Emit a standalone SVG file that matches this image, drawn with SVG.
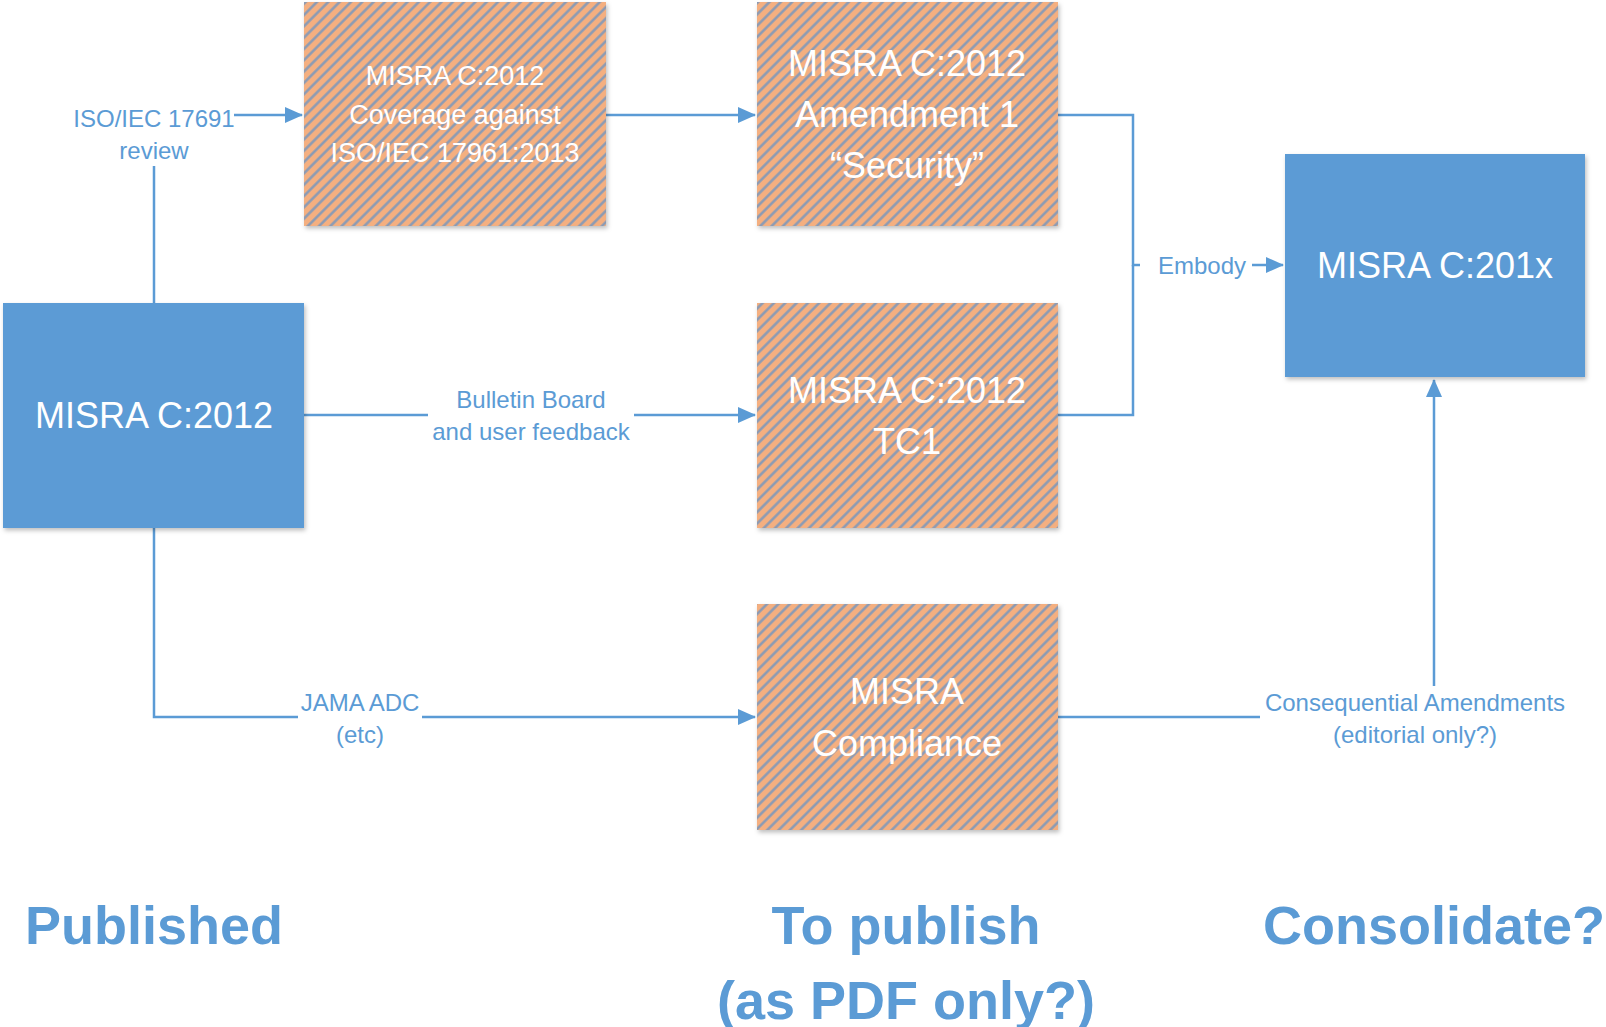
<svg xmlns="http://www.w3.org/2000/svg" width="1606" height="1027" viewBox="0 0 1606 1027">
<defs>
  <pattern id="hatch" width="8" height="8" patternUnits="userSpaceOnUse" patternTransform="rotate(45)">
    <rect width="8" height="8" fill="#F4AF80"/>
    <line x1="1.5" y1="0" x2="1.5" y2="8" stroke="#8399B8" stroke-width="2.4"/>
  </pattern>
  <filter id="sh" x="-5%" y="-5%" width="115%" height="115%">
    <feDropShadow dx="1.5" dy="2.5" stdDeviation="2" flood-color="#000" flood-opacity="0.25"/>
  </filter>
  <marker id="arr" markerWidth="18" markerHeight="16" refX="17" refY="8" orient="auto" markerUnits="userSpaceOnUse">
    <path d="M0,0 L18,8 L0,16 Z" fill="#5B9BD5"/>
  </marker>
</defs>
<style>
  .blue { fill: #5B9BD5; }
  .hat { fill: url(#hatch); }
  .bt { font-family: "Liberation Sans", Arial, sans-serif; fill: #FFFFFF; text-anchor: middle; }
  .big { font-size: 36px; }
  .mid { font-size: 27px; }
  .lbl { font-family: "Liberation Sans", Arial, sans-serif; font-size: 24px; fill: #5B9BD5; text-anchor: middle; }
  .head { font-family: "Liberation Sans", Arial, sans-serif; font-size: 54px; font-weight: bold; fill: #5B9BD5; text-anchor: middle; }
  .con { fill: none; stroke: #5B9BD5; stroke-width: 2.5; }
  .bg { fill: #FFFFFF; }
</style>
<rect width="1606" height="1027" fill="#FFFFFF"/>

<g id="connectors">
  <path class="con" d="M154,303 V115 H302" marker-end="url(#arr)"/>
  <path class="con" d="M606,115 H755" marker-end="url(#arr)"/>
  <path class="con" d="M1058,115 H1133 V265 H1283" marker-end="url(#arr)"/>
  <path class="con" d="M1058,415 H1133 V265"/>
  <path class="con" d="M304,415 H755" marker-end="url(#arr)"/>
  <path class="con" d="M154,528 V717 H755" marker-end="url(#arr)"/>
  <path class="con" d="M1058,717 H1434 V380" marker-end="url(#arr)"/>

  <rect class="bg" x="74" y="102" width="160" height="64"/>
  <text class="lbl" x="154" y="127">ISO/IEC 17691</text>
  <text class="lbl" x="154" y="159">review</text>

  <rect class="bg" x="1140" y="248" width="112" height="34"/>
  <text class="lbl" x="1202" y="274">Embody</text>

  <rect class="bg" x="428" y="386" width="206" height="60"/>
  <text class="lbl" x="531" y="408">Bulletin Board</text>
  <text class="lbl" x="531" y="440">and user feedback</text>

  <rect class="bg" x="298" y="688" width="124" height="60"/>
  <text class="lbl" x="360" y="711">JAMA ADC</text>
  <text class="lbl" x="360" y="743">(etc)</text>

  <rect class="bg" x="1260" y="686" width="316" height="64"/>
  <text class="lbl" x="1415" y="711">Consequential Amendments</text>
  <text class="lbl" x="1415" y="743">(editorial only?)</text>
</g>

<g id="node-coverage">
  <rect class="hat" x="304" y="2" width="302" height="224" filter="url(#sh)"/>
  <text class="bt mid" x="455" y="85">MISRA C:2012</text>
  <text class="bt mid" x="455" y="124">Coverage against</text>
  <text class="bt mid" x="455" y="162">ISO/IEC 17961:2013</text>
</g>

<g id="node-amendment">
  <rect class="hat" x="757" y="2" width="301" height="224" filter="url(#sh)"/>
  <text class="bt big" x="907" y="76">MISRA C:2012</text>
  <text class="bt big" x="907" y="127">Amendment 1</text>
  <text class="bt big" x="907" y="178">“Security”</text>
</g>

<g id="node-misra201x">
  <rect class="blue" x="1285" y="154" width="300" height="223" filter="url(#sh)"/>
  <text class="bt big" x="1435" y="278">MISRA C:201x</text>
</g>

<g id="node-misra2012">
  <rect class="blue" x="3" y="303" width="301" height="225" filter="url(#sh)"/>
  <text class="bt big" x="154" y="428">MISRA C:2012</text>
</g>

<g id="node-tc1">
  <rect class="hat" x="757" y="303" width="301" height="225" filter="url(#sh)"/>
  <text class="bt big" x="907" y="403">MISRA C:2012</text>
  <text class="bt big" x="907" y="454">TC1</text>
</g>

<g id="node-compliance">
  <rect class="hat" x="757" y="604" width="301" height="226" filter="url(#sh)"/>
  <text class="bt big" x="907" y="704">MISRA</text>
  <text class="bt big" x="907" y="756">Compliance</text>
</g>

<g id="headings">
  <text class="head" x="154" y="944">Published</text>
  <text class="head" x="906" y="944">To publish</text>
  <text class="head" x="906" y="1019">(as PDF only?)</text>
  <text class="head" x="1434" y="944">Consolidate?</text>
</g>
</svg>
